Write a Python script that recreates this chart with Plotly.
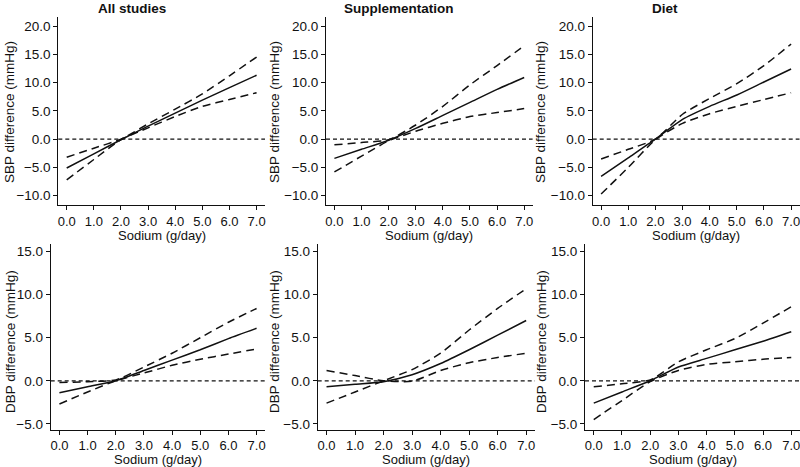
import plotly.graph_objects as go

# ---------------- data ----------------
sodium = [0, 1, 2, 3, 4, 5, 6, 7]
x_ticks = [0, 1, 2, 3, 4, 5, 6, 7]
sbp_ticks = [-10, -5, 0, 5, 10, 15, 20]
dbp_ticks = [-5, 0, 5, 10, 15]

panel_titles = ["All studies", "Supplementation", "Diet"]
x_title = "Sodium (g/day)"
sbp_title = "SBP difference (mmHg)"
dbp_title = "DBP difference (mmHg)"

# SBP, all studies
sbp_all_est = [-5.1, -2.6, -0.1, 2.3, 4.6, 6.9, 9.1, 11.3]
sbp_all_up = [-3.2, -1.6, 0.0, 2.7, 5.3, 8.0, 11.2, 14.5]
sbp_all_lo = [-7.2, -3.6, -0.1, 2.0, 4.0, 5.8, 7.0, 8.2]
# SBP, supplementation
sbp_sup_est = [-3.4, -1.8, -0.2, 1.9, 4.2, 6.5, 8.8, 10.9]
sbp_sup_up = [-1.0, -0.6, -0.1, 2.5, 5.8, 9.6, 13.0, 16.5]
sbp_sup_lo = [-5.8, -3.0, -0.3, 1.4, 2.8, 4.0, 4.7, 5.4]
# SBP, diet
sbp_diet_est = [-6.6, -3.3, 0.0, 3.5, 5.8, 7.8, 10.1, 12.4]
sbp_diet_up = [-3.5, -1.8, 0.0, 4.4, 7.2, 9.8, 13.0, 16.8]
sbp_diet_lo = [-9.7, -5.0, -0.1, 2.8, 4.5, 5.8, 7.0, 8.2]
# DBP, all studies
dbp_all_est = [-1.4, -0.7, 0.0, 1.2, 2.4, 3.6, 4.9, 6.1]
dbp_all_up = [-0.2, -0.1, 0.1, 1.6, 3.2, 5.0, 6.8, 8.4]
dbp_all_lo = [-2.7, -1.3, 0.0, 0.9, 1.8, 2.5, 3.1, 3.7]
# DBP, supplementation
dbp_sup_est = [-0.7, -0.4, -0.1, 0.7, 2.0, 3.6, 5.3, 7.0]
dbp_sup_up = [-2.6, -1.3, 0.0, 1.3, 3.2, 5.9, 8.4, 10.7]
dbp_sup_lo = [1.2, 0.6, 0.0, -0.05, 1.2, 2.1, 2.7, 3.2]
# DBP, diet
dbp_diet_est = [-2.6, -1.3, 0.0, 1.6, 2.6, 3.6, 4.6, 5.7]
dbp_diet_up = [-0.7, -0.35, 0.1, 2.2, 3.6, 4.9, 6.7, 8.6]
dbp_diet_lo = [-4.5, -2.3, -0.1, 1.2, 1.9, 2.2, 2.5, 2.7]

panels = [
    (sbp_all_est, sbp_all_up, sbp_all_lo),
    (sbp_sup_est, sbp_sup_up, sbp_sup_lo),
    (sbp_diet_est, sbp_diet_up, sbp_diet_lo),
    (dbp_all_est, dbp_all_up, dbp_all_lo),
    (dbp_sup_est, dbp_sup_up, dbp_sup_lo),
    (dbp_diet_est, dbp_diet_up, dbp_diet_lo),
]

# ---------------- layout geometry (pixels) ----------------
W, H = 800, 467
x_px = [(58.3, 265.0), (326.0, 532.6), (592.7, 799.5),
        (50.7, 265.3), (317.7, 535.0), (585.0, 800.0)]
y_px_top = (17.0, 205.0)
y_px_bot = (244.0, 429.5)
ytitle_px = [9, 274, 540, 10, 274, 541]
title_cx = [132, 398.5, 665]

FONT = "Liberation Sans, Arial, Helvetica, sans-serif"
BLACK = "#111111"

fig = go.Figure()
for i, (est, up, lo) in enumerate(panels):
    n = i + 1
    xa = "x" if n == 1 else f"x{n}"
    ya = "y" if n == 1 else f"y{n}"
    for ys, dash in ((up, "8px,5px"), (lo, "8px,5px"), (est, "solid")):
        fig.add_trace(go.Scatter(
            x=sodium, y=ys, mode="lines", xaxis=xa, yaxis=ya,
            line=dict(color=BLACK, width=1.5, dash=dash, shape="spline", smoothing=0.6),
            showlegend=False, hoverinfo="skip"))
    fig.add_shape(type="line", xref=f"{xa} domain", yref=ya, x0=0, x1=1, y0=0, y1=0,
                  line=dict(color=BLACK, width=1.3, dash="4px,3px"))

    top = i < 3
    ypx = y_px_top if top else y_px_bot
    ydom = [1 - ypx[1] / H, 1 - ypx[0] / H]
    xdom = [x_px[i][0] / W, min(x_px[i][1] / W, 1.0)]
    axis_common = dict(showline=True, linecolor=BLACK, linewidth=1, ticks="outside",
                       ticklen=4, tickwidth=1, tickcolor=BLACK, showgrid=False,
                       zeroline=False, tickformat=".1f", automargin=False,
                       ticklabeloverflow="allow")
    fig.layout[f"xaxis{'' if n == 1 else n}"] = dict(
        domain=xdom, range=[-0.31, 7.31], tickvals=x_ticks, anchor=ya,
        ticklabelstandoff=0, tickfont=dict(family=FONT, size=13, color=BLACK), **axis_common)
    if top:
        yr, yt = [-11.64, 21.59], sbp_ticks
    else:
        yr, yt = [-5.66, 15.89], dbp_ticks
    fig.layout[f"yaxis{'' if n == 1 else n}"] = dict(
        domain=ydom, range=yr, tickvals=yt, anchor=xa,
        tickfont=dict(family=FONT, size=13.5, color=BLACK), **axis_common)

    # x-axis title
    fig.add_annotation(text=x_title, xref=f"{xa} domain", x=0.5, yref="paper",
                       y=1 - ((235 if top else 459.5) / H), xanchor="center", yanchor="middle",
                       showarrow=False, font=dict(family=FONT, size=13, color=BLACK))
    # y-axis title
    fig.add_annotation(text=sbp_title if top else dbp_title, textangle=-90,
                       xref="paper", x=ytitle_px[i] / W, yref="paper",
                       y=1 - ((112 if top else 342) / H), xanchor="center", yanchor="middle",
                       showarrow=False, font=dict(family=FONT, size=13.5, color=BLACK))
    if top:
        fig.add_annotation(text=f"<b>{panel_titles[i]}</b>", xref="paper", x=title_cx[i] / W,
                           yref="paper", y=1 - 8 / H, xanchor="center", yanchor="middle",
                           showarrow=False, font=dict(family=FONT, size=13.5, color=BLACK))

fig.update_layout(width=W, height=H, margin=dict(l=0, r=0, t=0, b=0, autoexpand=False),
                  paper_bgcolor="white", plot_bgcolor="white", showlegend=False,
                  hovermode=False,
                  font=dict(family=FONT, size=13, color=BLACK))

fig.write_html("out.html", config={"displayModeBar": False, "staticPlot": True},
               post_script="document.body.style.margin='0px';document.body.style.overflow='hidden';")
